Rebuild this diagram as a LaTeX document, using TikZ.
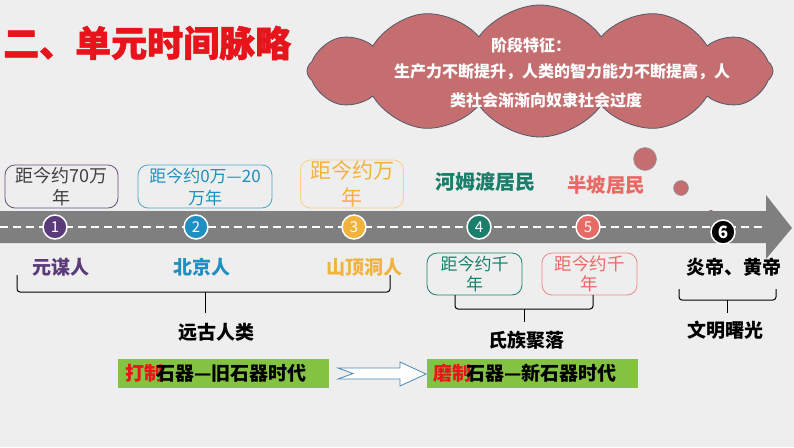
\documentclass[tikz,border=0pt]{standalone}
\usepackage{fontspec}
\setmainfont{Noto Sans CJK SC}
\newfontfamily\heavyfont[BoldFeatures={FakeBold=1.5}]{Noto Sans CJK SC}
\usetikzlibrary{shapes.symbols}
\definecolor{bgc}{HTML}{EEEEEE}
\definecolor{titlered}{HTML}{E8141B}
\definecolor{cloudc}{HTML}{C46E70}
\definecolor{cloudb}{HTML}{55586A}
\definecolor{bandc}{HTML}{7F7F7F}
\definecolor{cpurple}{HTML}{5B3A7A}
\definecolor{cblue}{HTML}{1E8FC0}
\definecolor{corange}{HTML}{F2B33D}
\definecolor{cteal}{HTML}{1A7F6A}
\definecolor{csalmon}{HTML}{E86A66}
\definecolor{cgreen}{HTML}{84C241}
\definecolor{arrowb}{HTML}{4A8AB8}
\tikzset{
  big/.style={font=\fontsize{19}{22}\selectfont\bfseries, inner sep=0pt},
  datebox/.style={draw, rounded corners=10pt, line width=0.8pt, align=center, inner sep=0pt},
  numdot/.style={circle, draw=white, line width=1.5pt, minimum size=24pt, inner sep=0pt, text=white, font=\fontsize{15}{15}\selectfont},
  bracep/.style={draw=black, line width=1pt, rounded corners=3pt},
  greenbar/.style={fill=cgreen, minimum width=211pt, minimum height=29pt, inner sep=0pt},
  bubble/.style={circle, fill=cloudc, draw=cloudb!60, line width=0.5pt, inner sep=0pt}
}
\begin{document}
\begin{tikzpicture}[x=1pt,y=-1pt]
\fill[bgc] (0,0) rectangle (794,447);
\useasboundingbox (0,0) rectangle (794,447);

% title
\node[anchor=west, text=titlered, font=\fontsize{36}{40}\selectfont\heavyfont\bfseries, inner sep=0pt] (title) at (3,43) {二、单元时间脉略};

% cloud
\node[cloud, cloud puffs=12, cloud puff arc=110, aspect=3.6, fill=cloudc, draw=cloudb, line width=0.8pt, minimum width=466pt, minimum height=132pt, inner sep=0pt] (cloud) at (540,71) {};
\node[text=white, font=\fontsize{16}{18}\selectfont\bfseries, inner sep=0pt] (c1) at (531,45) {阶段特征：};
\node[text=white, font=\fontsize{16}{18}\selectfont\bfseries, inner sep=0pt] (c2) at (562,72) {生产力不断提升，人类的智力能力不断提高，人};
\node[text=white, font=\fontsize{16}{18}\selectfont\bfseries, inner sep=0pt] (c3) at (546,100) {类社会渐渐向奴隶社会过度};

% thought bubbles
\node[bubble, minimum size=23pt] (b1) at (645,159) {};
\node[bubble, minimum size=15pt] (b2) at (681,188) {};
\node[circle, fill=cloudc!80!black, inner sep=0pt, minimum size=6pt] (b3) at (711,213) {};

% timeline band with arrow head
\fill[bandc] (0,211) -- (766,211) -- (766,195) -- (792,228) -- (766,259) -- (766,243) -- (0,243) -- cycle;
\coordinate (ls) at (0,227);
\coordinate (le) at (762,227);
\draw[white, line width=1.3pt, dash pattern=on 8pt off 5pt] (ls) -- (le);

% numbered dots
\node[numdot, fill=cpurple] (n1) at (55,227) {1};
\node[numdot, fill=cblue] (n2) at (196,227) {2};
\node[numdot, fill=corange] (n3) at (354,227) {3};
\node[numdot, fill=cteal] (n4) at (479,227) {4};
\node[numdot, fill=csalmon] (n5) at (588,227) {5};
\node[numdot, fill=black, font=\fontsize{17}{17}\selectfont\bfseries] (n6) at (723,232) {6};

% upper date boxes
\node[datebox, draw=cpurple!70!gray, text=black!75, minimum width=113pt, minimum height=43pt, font=\fontsize{18}{22}\selectfont] (d1) at (61.5,186.5) {距今约70万\\年};
\node[datebox, draw=cblue!80, text=cblue, minimum width=134pt, minimum height=43pt, font=\fontsize{17}{22}\selectfont] (d2) at (205,186.5) {距今约0万—20\\万年};
\node[datebox, draw=corange!60, text=corange, minimum width=103pt, minimum height=48pt, font=\fontsize{21}{27}\selectfont] (d3) at (352,184) {距今约万\\年};

% lower date boxes
\node[datebox, draw=cteal, text=cteal, minimum width=95pt, minimum height=42pt, font=\fontsize{17}{20}\selectfont] (d4) at (474.5,274) {距今约千\\年};
\node[datebox, draw=csalmon!80, text=csalmon, minimum width=95pt, minimum height=42pt, font=\fontsize{17.5}{20}\selectfont] (d5) at (589.5,274) {距今约千\\年};

% labels
\node[big, text=cteal, font=\fontsize{20}{22}\selectfont\bfseries] (l4) at (485,182) {河姆渡居民};
\node[big, text=csalmon, font=\fontsize{19.5}{22}\selectfont\bfseries] (l5) at (606,185) {半坡居民};
\node[big, text=cpurple] (l1) at (61,267) {元谋人};
\node[big, text=cblue] (l2) at (202,267) {北京人};
\node[big, text=corange] (l3) at (364,267) {山顶洞人};
\node[big, text=black] (l6) at (734,267) {炎帝、黄帝};

% braces
\coordinate (p1a) at (17,275);
\coordinate (p1b) at (390,275);
\draw[bracep] (p1a) -- (17,292) -- (390,292) -- (p1b);
\coordinate (s1a) at (205,292);
\coordinate (s1b) at (205,313);
\draw[line width=1pt] (s1a) -- (s1b);
\node[big] (g1) at (216,332) {远古人类};

\coordinate (p2a) at (455,295);
\coordinate (p2b) at (593,295);
\draw[bracep] (p2a) -- (455,309) -- (593,309) -- (p2b);
\coordinate (s2a) at (524,309);
\coordinate (s2b) at (524,322);
\draw[line width=1pt] (s2a) -- (s2b);
\node[big] (g2) at (526,340) {氏族聚落};

\coordinate (p3a) at (679,289);
\coordinate (p3b) at (776,289);
\draw[bracep] (p3a) -- (679,300) -- (776,300) -- (p3b);
\coordinate (s3a) at (727,300);
\coordinate (s3b) at (727,313);
\draw[line width=1pt] (s3a) -- (s3b);
\node[big] (g3) at (725,330) {文明曙光};

% green bars
\node[greenbar, anchor=north west] (bar1) at (118,359) {};
\node[big, anchor=west, text=titlered] (r1) at (125,373.5) {打制};
\node[big, anchor=west, text=black] (t1) at (156,373.5) {石器—旧石器时代};
\node[greenbar, anchor=north west] (bar2) at (427,359) {};
\node[big, anchor=west, text=titlered] (r2) at (433,373.5) {磨制};
\node[big, anchor=west, text=black] (t2) at (466,373.5) {石器—新石器时代};

% hollow arrow between bars
\draw[arrowb, fill=white, line width=0.8pt] (338,368) -- (400,368) -- (400,362) -- (426,374) -- (400,386) -- (400,379) -- (338,379) -- (353,373.5) -- cycle;
\end{tikzpicture}
\end{document}
